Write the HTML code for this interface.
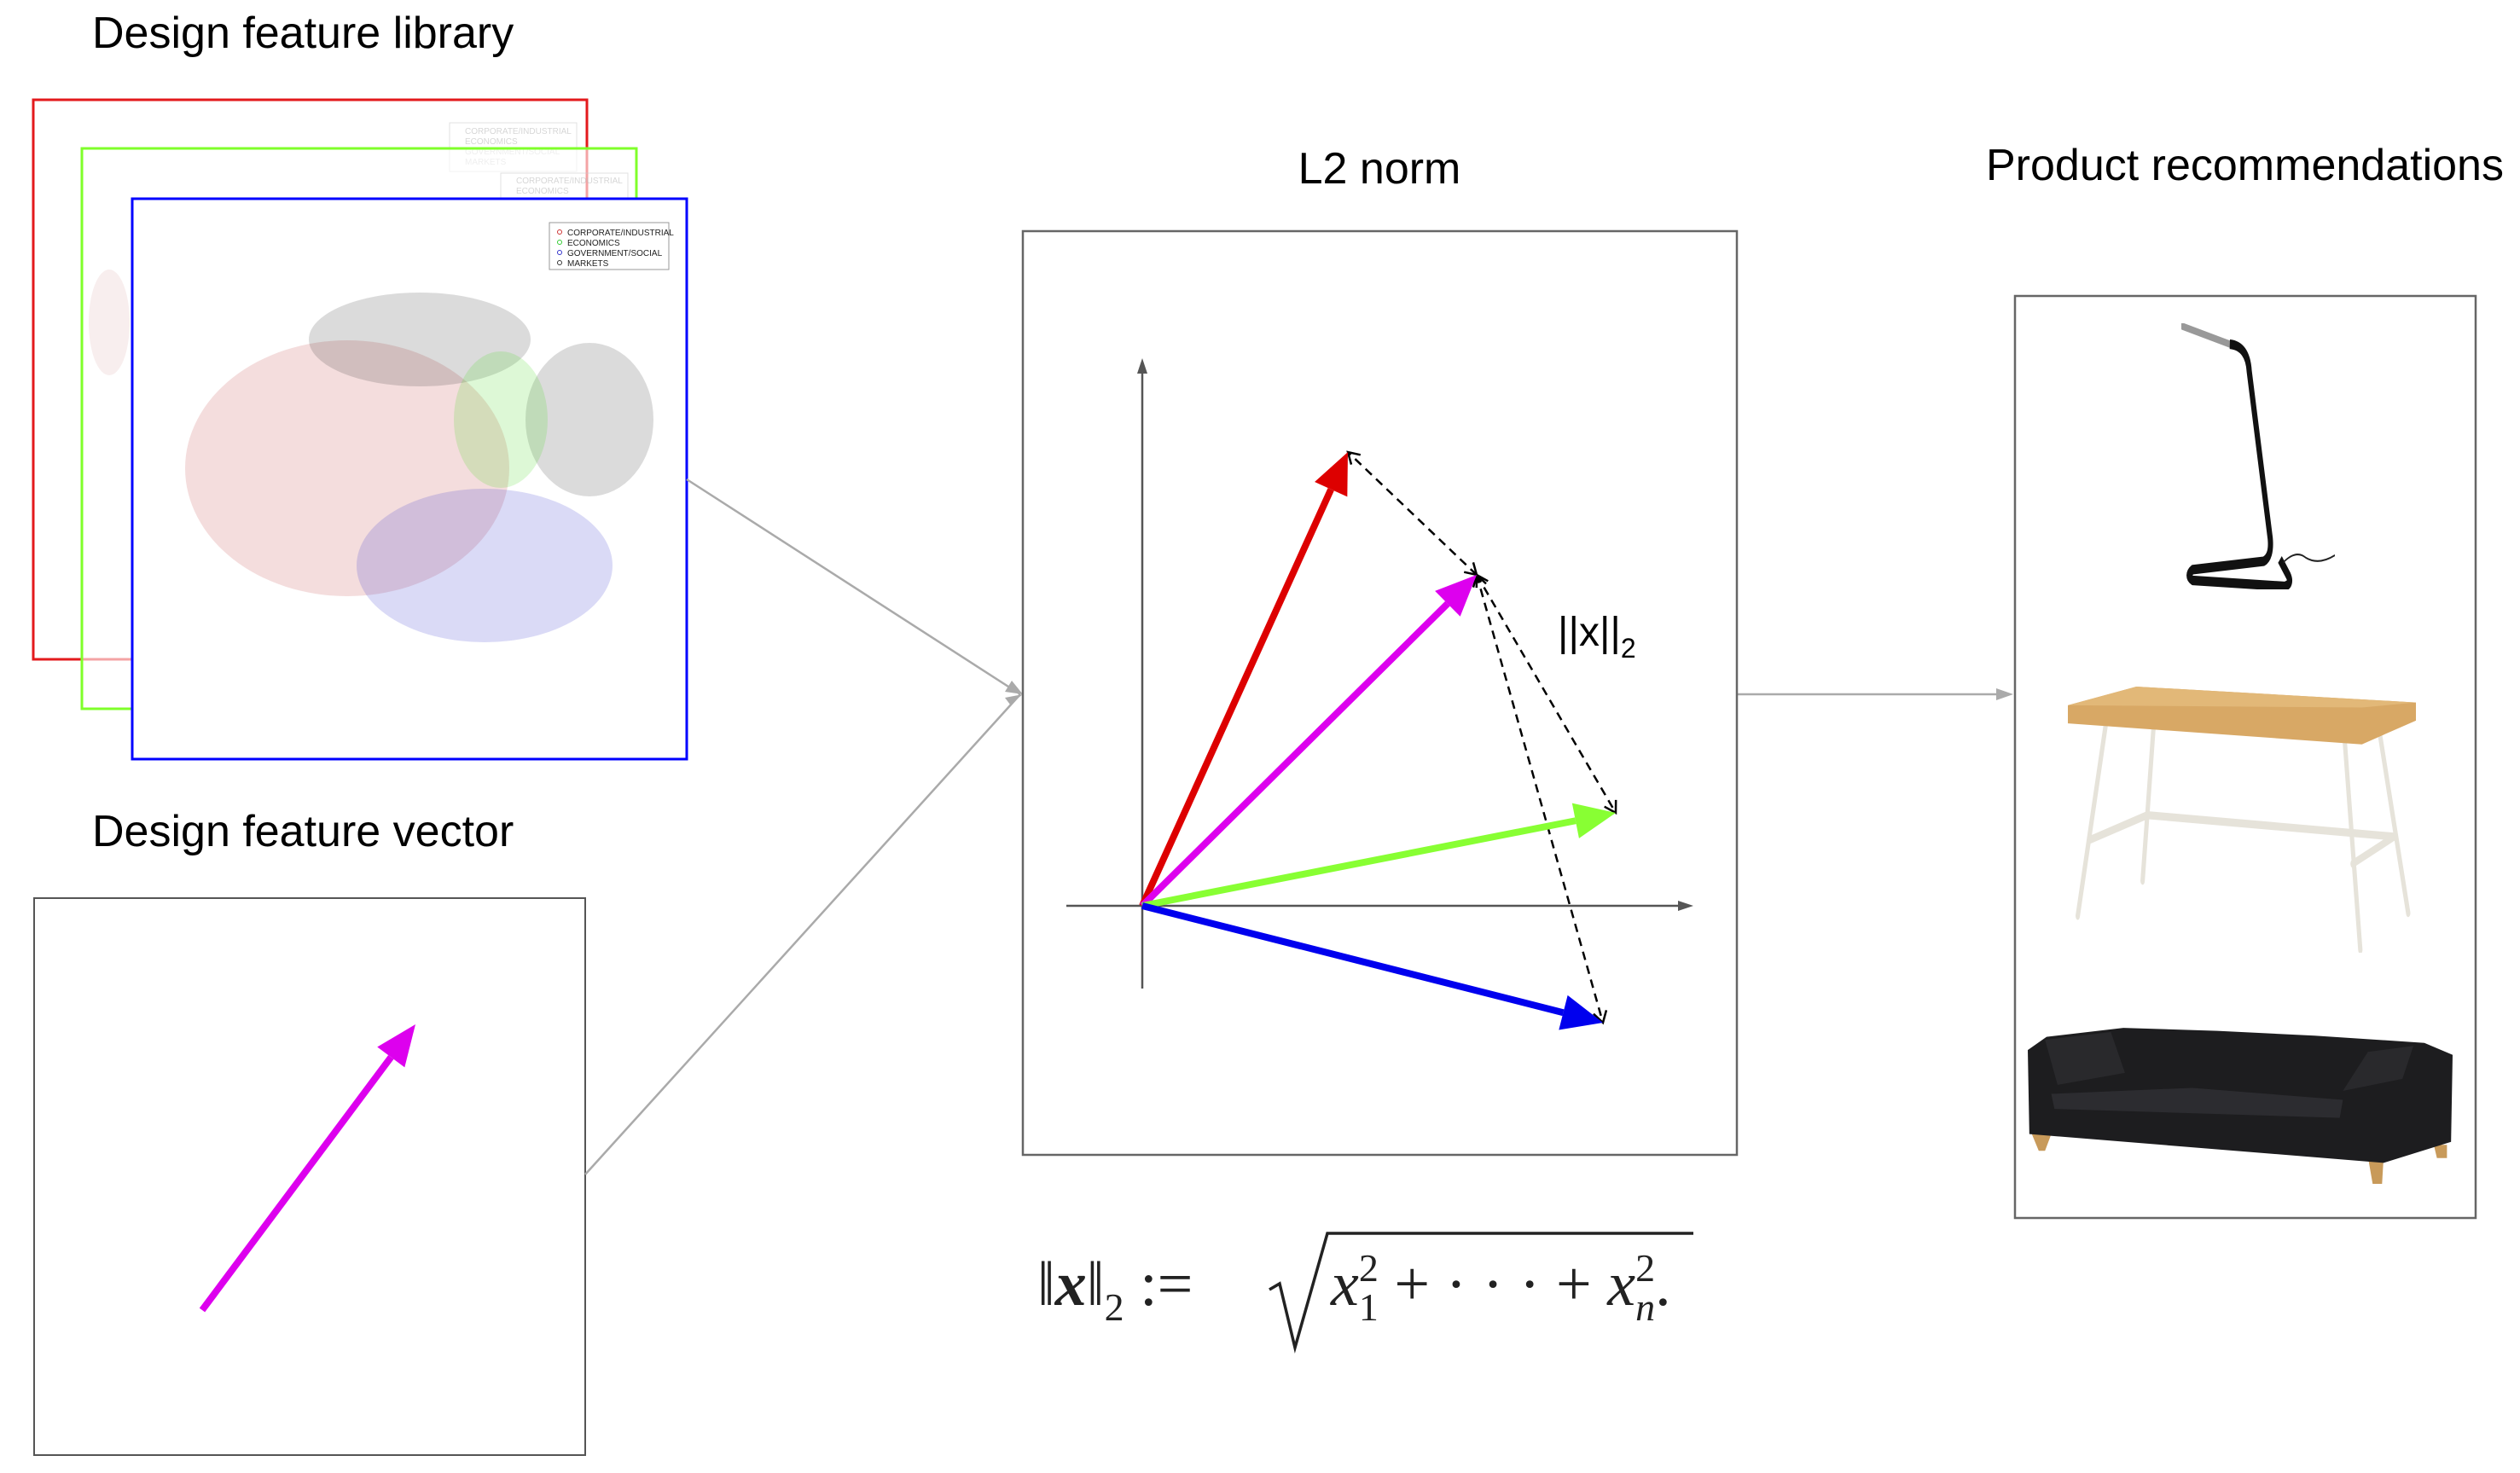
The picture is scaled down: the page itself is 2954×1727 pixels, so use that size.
<!DOCTYPE html>
<html><head><meta charset="utf-8"><style>
html,body{margin:0;padding:0;background:#fff;}
svg{display:block;font-family:"Liberation Sans",sans-serif;}
</style></head><body>
<svg id="root" width="2954" height="1727" viewBox="0 0 2954 1727">
  <rect width="2954" height="1727" fill="#fff"/>
  <text x="108" y="56" font-size="52" fill="#000">Design feature library</text>
  <text x="108" y="992" font-size="52" fill="#000">Design feature vector</text>
  <text x="1617" y="215" font-size="52" text-anchor="middle" fill="#000">L2 norm</text>
  <text x="2328" y="211" font-size="52" fill="#000">Product recommendations</text>

  <rect x="39" y="117" width="649" height="656" fill="#fff" stroke="#e31a1c" stroke-width="3"/>
  <g fill="#bbb" font-size="10" opacity="0.6">
    <rect x="527" y="144" width="149" height="57" fill="none" stroke="#ccc"/>
    <text x="545" y="157">CORPORATE/INDUSTRIAL</text><text x="545" y="169">ECONOMICS</text><text x="545" y="181">GOVERNMENT/SOCIAL</text><text x="545" y="193">MARKETS</text>
  </g>
  <rect x="96" y="174" width="650" height="657" fill="#fff" fill-opacity="0.6" stroke="#7fff2a" stroke-width="3"/>
  <g fill="#bbb" font-size="10" opacity="0.6">
    <rect x="587" y="203" width="149" height="40" fill="none" stroke="#ccc"/>
    <text x="605" y="215">CORPORATE/INDUSTRIAL</text><text x="605" y="227">ECONOMICS</text>
  </g>
  <ellipse cx="128" cy="378" rx="24" ry="62" fill="#e8c8c8" opacity="0.3"/>
  <rect x="155" y="233" width="650" height="657" fill="#fff" stroke="#0000ff" stroke-width="3"/>
  <g id="scatter"></g>
  <g font-size="10" fill="#222">
    <rect x="644" y="261" width="140" height="55" fill="#fff" stroke="#999"/>
    <circle cx="656" cy="272" r="2.5" fill="none" stroke="#c33"/><text x="665" y="276">CORPORATE/INDUSTRIAL</text>
    <circle cx="656" cy="284" r="2.5" fill="none" stroke="#3c3"/><text x="665" y="288">ECONOMICS</text>
    <circle cx="656" cy="296" r="2.5" fill="none" stroke="#33c"/><text x="665" y="300">GOVERNMENT/SOCIAL</text>
    <circle cx="656" cy="308" r="2.5" fill="none" stroke="#333"/><text x="665" y="312">MARKETS</text>
  </g>

  <rect x="40" y="1053" width="646" height="653" fill="#fff" stroke="#555" stroke-width="2"/>
  <g id="queryVec"></g>

  <g stroke="#aaa" stroke-width="2.5" fill="none">
    <line x1="805" y1="562" x2="1196" y2="814"/>
    <line x1="686" y1="1377" x2="1196" y2="814"/>
    <line x1="2036" y1="814" x2="2356" y2="814"/>
  </g>
  <g fill="#aaa">
    <polygon points="1199,814 1178,811 1186,798"/>
    <polygon points="1199,814 1184,826 1178,818"/>
    <polygon points="2360,814 2340,807 2340,821"/>
  </g>

  <rect x="1199" y="271" width="837" height="1083" fill="#fff" stroke="#666" stroke-width="2.5"/>
  <g id="axes"></g>
  <g id="dashes"></g>
  <g id="vectors"></g>
  <text x="1826" y="757" font-size="48" fill="#000">||x||<tspan font-size="32" dy="14">2</tspan></text>

  <g fill="#222" font-family="'Liberation Serif',serif" font-size="74">
    <text x="1216" y="1530">‖<tspan font-style="italic" font-weight="bold">x</tspan>‖<tspan font-size="46" dy="18">2</tspan><tspan dy="-18"> :=</tspan></text>
    <path d="M1488,1512 L1500,1505 L1518,1580 L1556,1446 L1985,1446" fill="none" stroke="#222" stroke-width="3.5"/>
    <text x="1560" y="1530"><tspan font-style="italic">x</tspan><tspan font-size="46" dy="-28">2</tspan><tspan font-size="46" dx="-23" dy="46">1</tspan><tspan dy="-18"> + · · · + </tspan><tspan font-style="italic">x</tspan><tspan font-size="46" dy="-28">2</tspan><tspan font-size="46" font-style="italic" dx="-23" dy="46">n</tspan><tspan dy="-18">.</tspan></text>
  </g>

  <rect x="2362" y="347" width="540" height="1081" fill="#fff" stroke="#666" stroke-width="2.5"/>
  <svg x="2557" y="379" width="180" height="312" viewBox="535 40 475 445" preserveAspectRatio="none">
    <line x1="538" y1="45" x2="685" y2="75" stroke="#999" stroke-width="12" stroke-linecap="round"/>
    <path d="M685,75 Q740,78 745,120 L810,400 Q815,430 790,438 L570,452 Q548,462 570,470 L855,480 Q878,476 866,462 L840,435" fill="none" stroke="#111" stroke-width="16" stroke-linejoin="round"/>
    <path d="M850,440 Q890,418 920,432 Q960,445 1010,428" fill="none" stroke="#222" stroke-width="3"/>
  </svg>
  <svg x="2424" y="805" width="408" height="312" viewBox="148 635 1127 470" preserveAspectRatio="none">
    <g stroke="#e6e3da" stroke-width="14" stroke-linecap="round">
      <line x1="270" y1="705" x2="180" y2="1040"/><line x1="425" y1="710" x2="390" y2="978"/>
      <line x1="1045" y1="735" x2="1095" y2="1100"/><line x1="1160" y1="725" x2="1250" y2="1035"/>
      <line x1="222" y1="905" x2="405" y2="862"/><line x1="405" y1="862" x2="1205" y2="900"/><line x1="1070" y1="948" x2="1205" y2="900"/>
    </g>
    <polygon points="148,668 370,635 1275,663 1275,695 1100,737 148,700" fill="#d8a865"/>
    <polygon points="148,668 370,635 1275,663 1100,672" fill="#e2b878"/>
  </svg>
  <svg x="2377" y="1203" width="498" height="185" viewBox="35 1232 1355 263" preserveAspectRatio="none">
    <polygon points="48,1412 70,1440 90,1440 110,1412" fill="#c89a5a"/>
    <polygon points="1120,1450 1135,1495 1165,1495 1170,1450" fill="#c89a5a"/>
    <polygon points="1330,1430 1340,1452 1372,1452 1372,1430" fill="#c89a5a"/>
    <path d="M35,1272 L95,1250 L340,1235 L640,1240 L950,1248 L1300,1260 L1390,1280 L1385,1425 L1170,1460 L40,1412 Z" fill="#1d1d1f"/>
    <path d="M110,1345 L560,1335 L1040,1355 L1030,1385 L120,1370 Z" fill="#2c2c30"/>
    <path d="M90,1255 L300,1242 L345,1310 L130,1330 Z" fill="#29292c"/>
    <path d="M1040,1340 L1120,1275 L1265,1265 L1230,1320 Z" fill="#29292c"/>
  </svg>

<script>
const clusterNames = ["corporate","markets-top","markets-right","economics","government"];
const clusterColors = ["#c04040","#222222","#222222","#55dd33","#3333cc"];
const clusterCx = [407, 492, 691, 587, 568];
const clusterCy = [549, 398, 492, 492, 663];
const clusterRx = [190, 130, 75, 55, 150];
const clusterRy = [150, 55, 90, 80, 90];
const clusterOpacity = [0.18, 0.16, 0.16, 0.2, 0.18];

const vectorNames = ["red","magenta","green","blue"];
const vectorColors = ["#dd0000","#dd00ee","#88ff33","#0000ee"];
const vectorX = [2.41, 3.92, 5.55, 5.40];
const vectorY = [5.32, 3.88, 1.09, -1.37];
const queryFrom = [237, 1536];
const queryTo = [487, 1201];

const NS = "http://www.w3.org/2000/svg";
const ox = 1339, oy = 1062, unit = 100;
const sx = v => ox + v * unit;
const sy = v => oy - v * unit;

function mk(tag, attrs, parent) {
  const e = document.createElementNS(NS, tag);
  for (const k in attrs) e.setAttribute(k, attrs[k]);
  parent.appendChild(e);
  return e;
}

const sc = document.getElementById("scatter");
for (let i = 0; i < clusterNames.length; i++) {
  const e = mk("ellipse", {cx: clusterCx[i], cy: clusterCy[i], rx: clusterRx[i], ry: clusterRy[i], fill: clusterColors[i], "fill-opacity": clusterOpacity[i]}, sc);
  
  
}

function arrow(parent, x1, y1, x2, y2, color, w, hl, hw) {
  const dx = x2 - x1, dy = y2 - y1, L = Math.hypot(dx, dy), ux = dx / L, uy = dy / L;
  const bx = x2 - ux * hl, by = y2 - uy * hl;
  mk("line", {x1: x1, y1: y1, x2: bx, y2: by, stroke: color, "stroke-width": w}, parent);
  mk("polygon", {points: `${x2},${y2} ${bx - uy * hw / 2},${by + ux * hw / 2} ${bx + uy * hw / 2},${by - ux * hw / 2}`, fill: color}, parent);
}

const ax = document.getElementById("axes");
arrow(ax, 1339, 1159, 1339, 420, "#555", 2.5, 18, 12);
arrow(ax, 1250, 1062, 1985, 1062, "#555", 2.5, 18, 12);

const vg = document.getElementById("vectors");
for (let i = 0; i < vectorNames.length; i++) {
  const g = mk("g", {}, vg);
  
  
  arrow(g, ox, oy, sx(vectorX[i]), sy(vectorY[i]), vectorColors[i], 8, 48, 42);
}

const dg = document.getElementById("dashes");
function dashArrow(x1, y1, x2, y2, both) {
  mk("line", {x1: x1, y1: y1, x2: x2, y2: y2, stroke: "#000", "stroke-width": 2.5, "stroke-dasharray": "10,7"}, dg);
  const head = (px, py, qx, qy) => {
    const dx = px - qx, dy = py - qy, L = Math.hypot(dx, dy), ux = dx / L, uy = dy / L, h = 13;
    mk("polyline", {points: `${px - ux*h - uy*h*0.6},${py - uy*h + ux*h*0.6} ${px},${py} ${px - ux*h + uy*h*0.6},${py - uy*h - ux*h*0.6}`, fill: "none", stroke: "#000", "stroke-width": 2.5}, dg);
  };
  head(x2, y2, x1, y1);
  if (both) head(x1, y1, x2, y2);
}
const mIdx = 1;
for (let i = 0; i < vectorNames.length; i++) {
  if (i === mIdx) continue;
  dashArrow(sx(vectorX[mIdx]), sy(vectorY[mIdx]), sx(vectorX[i]), sy(vectorY[i]), true);
}

arrow(document.getElementById("queryVec"), queryFrom[0], queryFrom[1], queryTo[0], queryTo[1], "#dd00ee", 8, 48, 40);
</script>
</svg>
</body></html>
